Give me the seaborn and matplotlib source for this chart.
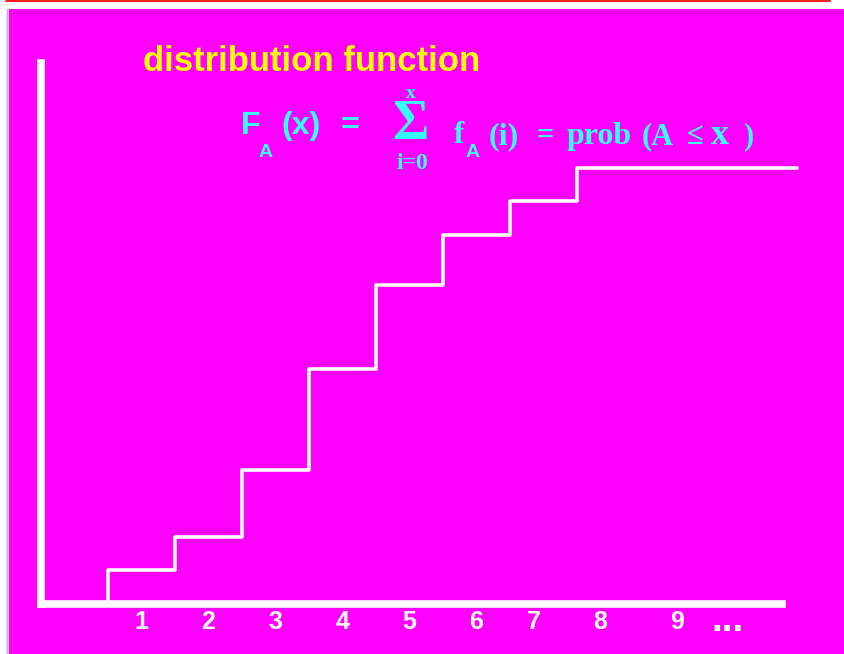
import matplotlib
matplotlib.use("Agg")
import matplotlib.pyplot as plt
import seaborn as sns
import pandas as pd
from matplotlib.patches import Rectangle
from matplotlib.lines import Line2D

# step edges (value i starts at i - 0.5) and cumulative probability reached there
step_x = [0.5, 1.5, 2.5, 3.5, 4.5, 5.5, 6.5, 7.5]
cdf = [0.077, 0.153, 0.307, 0.538, 0.731, 0.846, 0.924, 1.0]
x_end = 10.78

tick_pos = [1, 2, 3, 4, 5, 6, 6.85, 7.85, 9]
tick_lab = ["1", "2", "3", "4", "5", "6", "7", "8", "9"]
more_pos = 9.75
more_lab = "..."

W, H = 844, 654
MAGENTA = "#FF00FF"
CYAN = "#33FFFF"
YELLOW = "#FFFF00"

sns.set_style("white")
plt.rcParams["font.family"] = ["Liberation Sans", "DejaVu Sans"]

fig = plt.figure(figsize=(W / 100, H / 100), dpi=100, facecolor="white")

def fx(px):
    return px / W

def fy(py):
    return 1 - py / H

# slide background
fig.add_artist(Rectangle((fx(9), 0), 1 - fx(9), fy(9), transform=fig.transFigure,
                         facecolor=MAGENTA, edgecolor="none", zorder=0))
fig.add_artist(Line2D([fx(7), fx(7)], [0, fy(9)], transform=fig.transFigure,
                      color="#FF88FF", lw=1))
fig.add_artist(Line2D([fx(6), fx(830)], [fy(1), fy(1)], transform=fig.transFigure,
                      color="#FF2020", lw=1.5))

ax = fig.add_axes([fx(41), fy(603.5), fx(782) - fx(41), fy(63) - fy(603.5)])
ax.patch.set_alpha(0)

xs = [step_x[0]] + step_x + [x_end]
ys = [0] + cdf + [cdf[-1]]
df = pd.DataFrame({"x": xs, "F": ys})
sns.lineplot(data=df, x="x", y="F", sort=False, estimator=None, drawstyle="steps-post",
             color="white", lw=2.6, ax=ax, clip_on=False)

ax.set_xlim(-0.5, 10.56)
ax.set_ylim(0, 1.241)
for s in ["top", "right"]:
    ax.spines[s].set_visible(False)
for s in ["left", "bottom"]:
    ax.spines[s].set_color("white")
    ax.spines[s].set_linewidth(5.5)
    ax.spines[s].set_capstyle("projecting")
ax.set_yticks([])
ax.set_xticks(tick_pos, tick_lab)
ax.tick_params(axis="x", length=0, pad=5, labelcolor="white", labelsize=18)
for t in ax.get_xticklabels():
    t.set_fontweight("bold")
ax.annotate(more_lab, xy=(more_pos, 0), xytext=(0, -19.5), textcoords="offset points",
            ha="center", va="baseline", color="white", fontsize=28,
            fontweight="bold", annotation_clip=False)
ax.set_xlabel("")
ax.set_ylabel("")

# title
fig.text(fx(143), fy(71), "distribution function", color=YELLOW, fontsize=25,
         fontweight="bold", ha="left", va="baseline")

# formula
sans = dict(color=CYAN, fontweight="bold", va="baseline", ha="left",
            family=["Liberation Sans", "DejaVu Sans"])
serif = dict(color=CYAN, fontweight="bold", va="baseline", ha="left",
             family=["Liberation Serif", "DejaVu Serif"])
fig.text(fx(241), fy(134), "F", fontsize=23, **sans)
fig.text(fx(259), fy(157), "A", fontsize=14, **sans)
fig.text(fx(281), fy(134), "(x)", fontsize=23, **sans)
fig.text(fx(341), fy(134), "=", fontsize=23, **sans)
fig.text(fx(392), fy(139), "\u03a3", fontsize=40, **serif)
fig.text(fx(406), fy(98), "x", fontsize=14, **serif)
fig.text(fx(396), fy(169), "i=0", fontsize=17, **serif)
fig.text(fx(454), fy(143), "f", fontsize=22, **serif)
fig.text(fx(466), fy(157), "A", fontsize=14, **sans)
fig.text(fx(489), fy(144), "(i)", fontsize=23, **serif)
fig.text(fx(537), fy(144), "=", fontsize=22, **serif)
fig.text(fx(567), fy(144), "prob", fontsize=23, **serif)
fig.text(fx(642), fy(144), "(A", fontsize=22, **serif)
fig.text(fx(687), fy(144), "\u2264", fontsize=22, **serif)
fig.text(fx(711), fy(144), "x", fontsize=26, **serif)
fig.text(fx(744), fy(144), ")", fontsize=22, **serif)

fig.savefig("out.png", dpi=100, facecolor="white")
